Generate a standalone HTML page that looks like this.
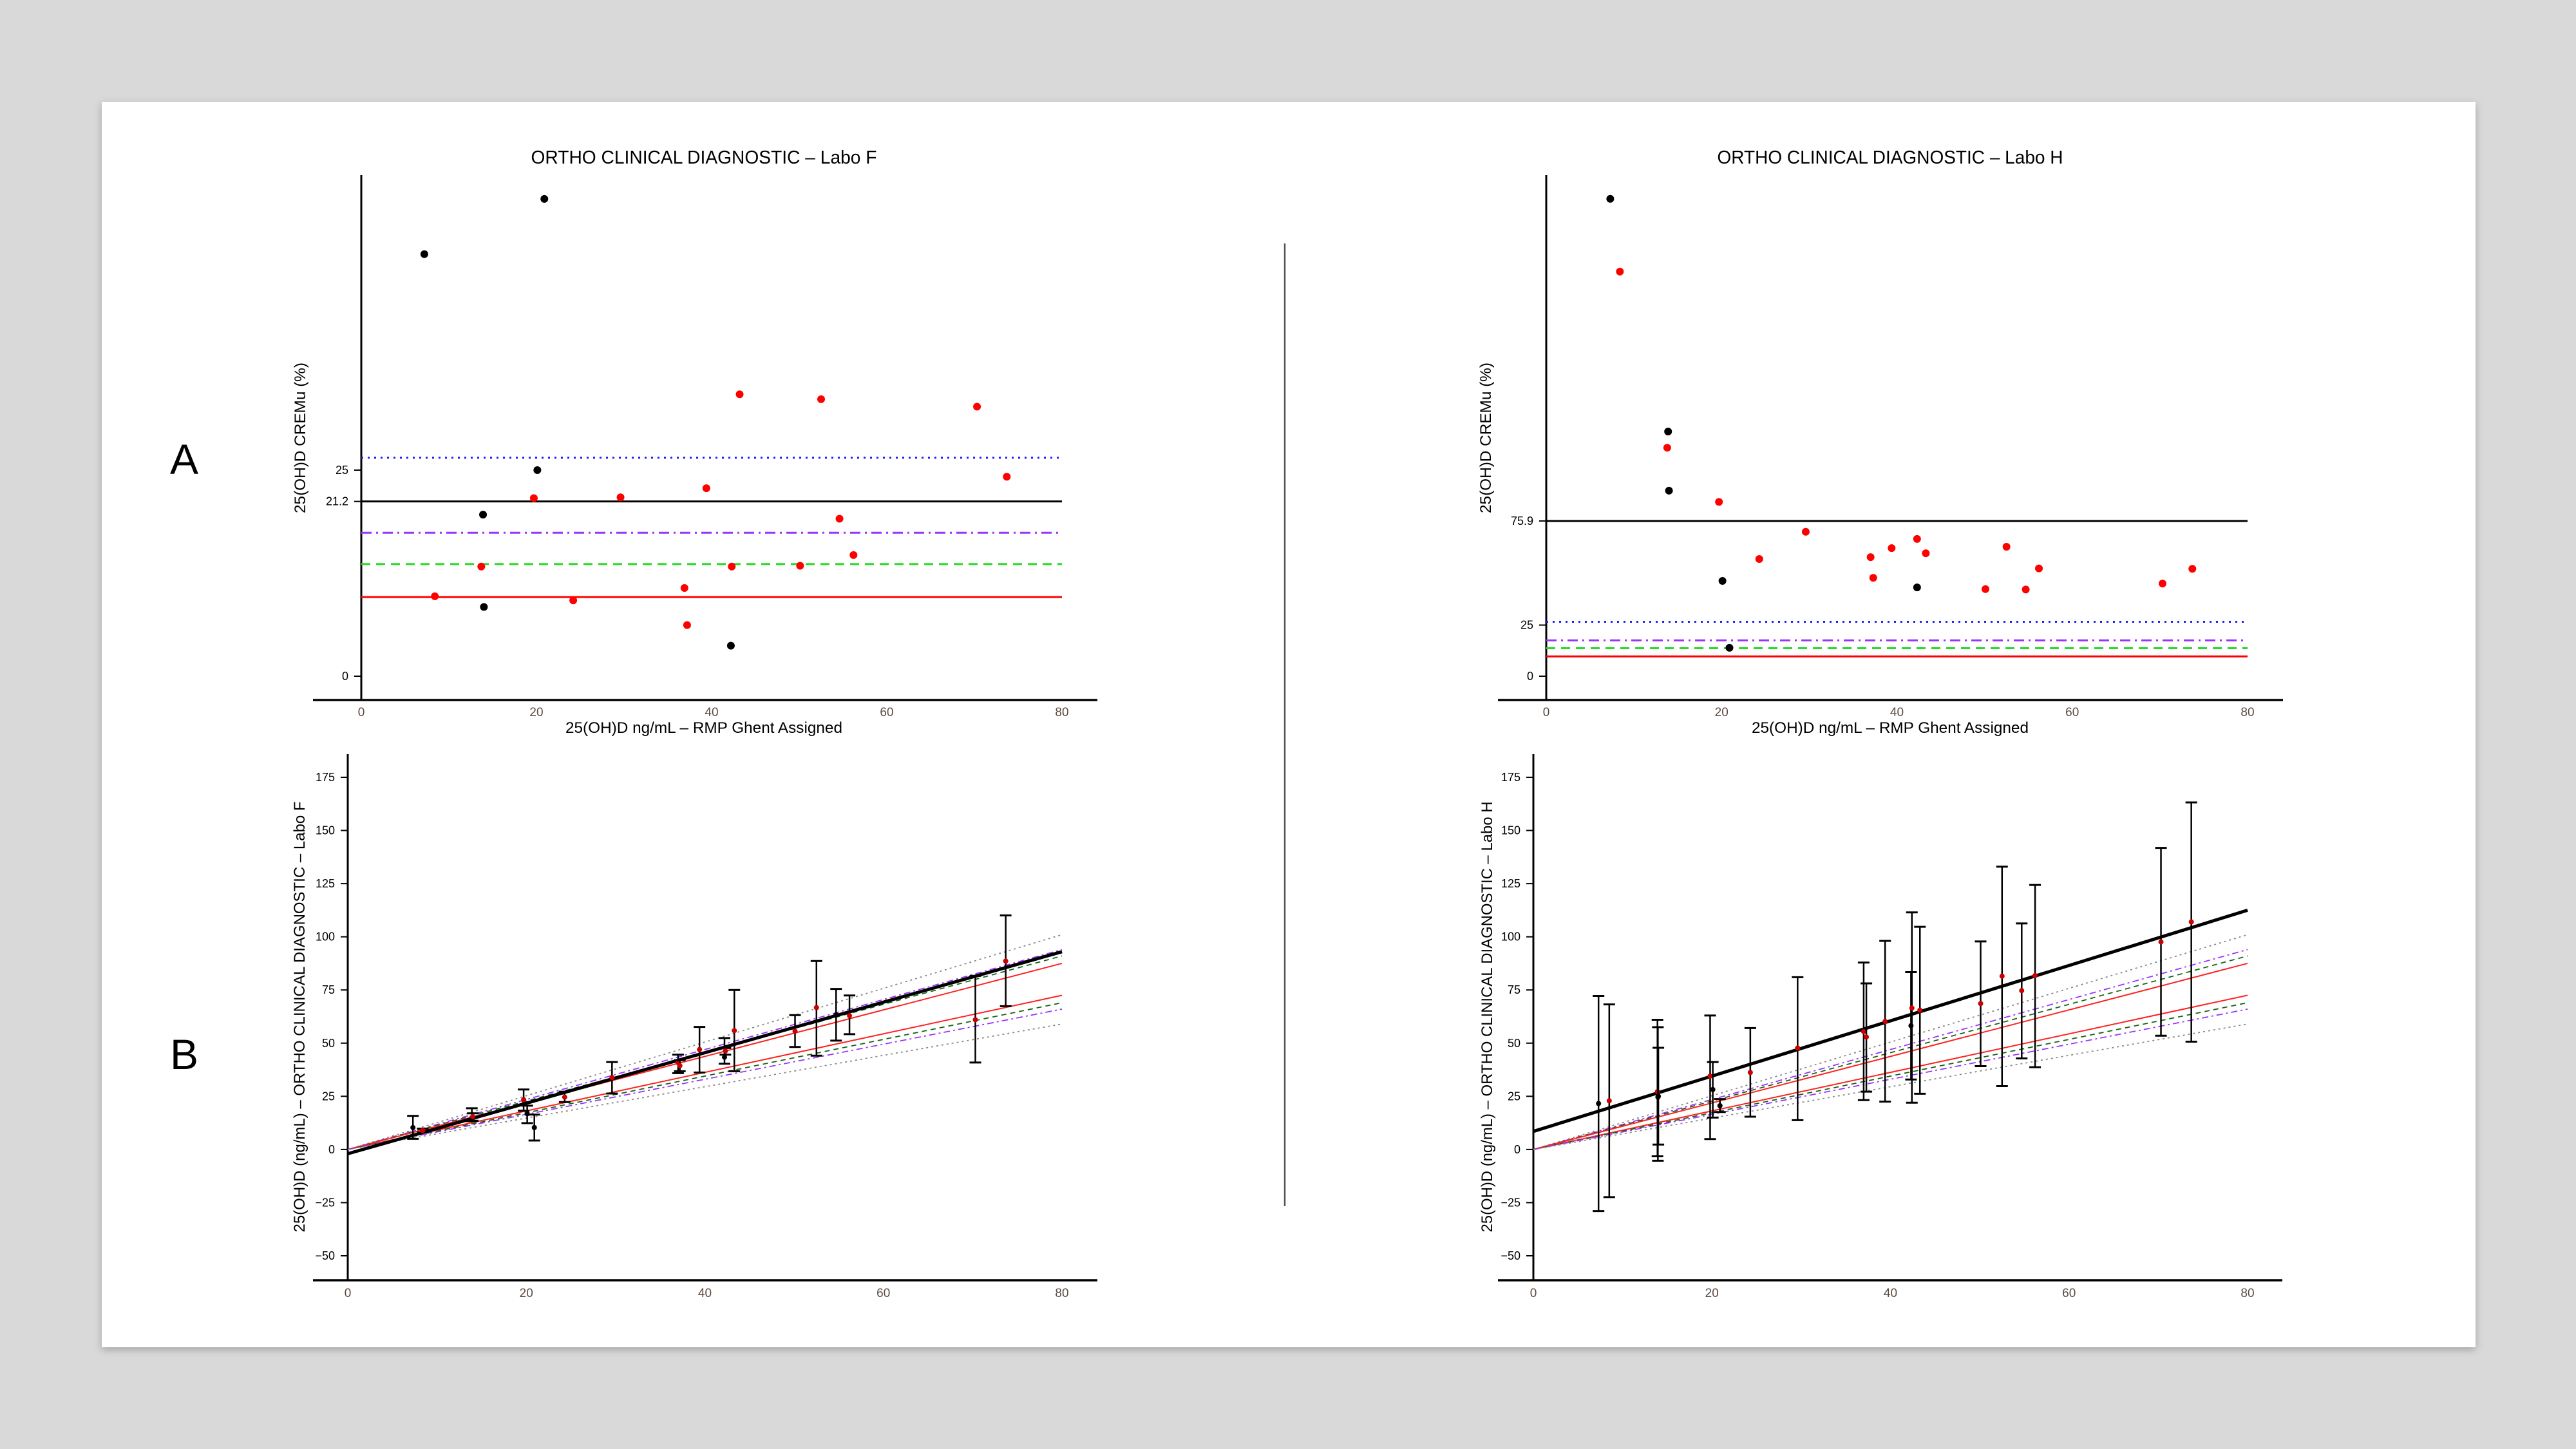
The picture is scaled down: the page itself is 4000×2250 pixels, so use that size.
<!DOCTYPE html>
<html><head><meta charset="utf-8">
<style>
html,body{margin:0;padding:0;background:#d9d9d9;}
svg{display:block;}
text{font-family:"Liberation Sans",sans-serif;}
</style></head>
<body>
<svg id="chart" width="4000" height="2250" viewBox="0 0 4000 2250" xmlns="http://www.w3.org/2000/svg">
<defs><filter id="sh" x="-5%" y="-5%" width="110%" height="110%"><feDropShadow dx="0" dy="4" stdDeviation="6" flood-color="#000" flood-opacity="0.25"/></filter></defs>
<rect x="0" y="0" width="4000" height="2250" fill="#d9d9d9"/>
<rect x="158" y="158" width="3686" height="1934" fill="#fff" filter="url(#sh)"/>
<text x="286" y="736" font-size="66" text-anchor="middle" fill="#000">A</text>
<text x="286" y="1660" font-size="66" text-anchor="middle" fill="#000">B</text>
<line x1="1995" y1="378" x2="1995" y2="1873" stroke="#555" stroke-width="2.5"/>
<g id="root"></g>
</svg>
<script>
// ---------- Panel A data (CREMu %) ----------
const aLeftBlackX = [7.2, 20.9, 20.1, 13.9, 14.0, 42.2];
const aLeftBlackY = [51.2, 57.9, 25.0, 19.6, 8.4, 3.7];
const aLeftRedX = [43.2, 52.5, 70.3, 73.7, 19.7, 29.6, 39.4, 54.6, 56.2, 13.7, 42.3, 50.1, 36.9, 8.4, 24.2, 37.2];
const aLeftRedY = [34.2, 33.6, 32.7, 24.2, 21.6, 21.7, 22.8, 19.1, 14.7, 13.3, 13.3, 13.4, 10.7, 9.7, 9.2, 6.2];
const aLeftRefs = [26.5, 21.2, 17.4, 13.6, 9.6]; // blue dotted, black, purple, green, red
const aLeftTicks = [0, 21.2, 25];

const aRightBlackX = [7.3, 13.9, 14.0, 20.1, 42.3, 20.9];
const aRightBlackY = [233.4, 119.6, 90.7, 46.6, 43.4, 13.9];
const aRightRedX = [8.4, 13.8, 19.7, 29.6, 24.3, 37.0, 37.3, 39.4, 42.3, 43.3, 52.5, 50.1, 54.7, 56.2, 70.3, 73.7];
const aRightRedY = [197.8, 111.7, 85.2, 70.6, 57.3, 58.2, 48.1, 62.6, 67.1, 60.1, 63.3, 42.6, 42.4, 52.7, 45.3, 52.5];
const aRightRefs = [26.6, 75.9, 17.5, 13.7, 9.7];
const aRightTicks = [0, 25, 75.9];

const xTicks = [0, 20, 40, 60, 80];
const bYTicks = [-50, -25, 0, 25, 50, 75, 100, 125, 150, 175];

// ---------- Panel B data ----------
const bandSlopesAt80 = [101, 94, 91, 87.5, 72.5, 69, 66, 59]; // value at x=80 for each band line
const bLeftFit = [-2, 93];    // fitted line value at x=0, x=80
const bRightFit = [8.5, 112.5];

const bLeftX   = [7.3, 8.4, 13.9, 14.0, 19.7, 20.1, 20.9, 24.3, 29.6, 37.0, 37.2, 39.4, 42.2, 42.3, 43.3, 50.1, 52.5, 54.7, 56.2, 70.3, 73.7];
const bLeftY   = [10.3, 8.9, 14.2, 15.4, 23.4, 16.8, 10.3, 24.6, 33.8, 40.8, 39.4, 47.0, 43.4, 46.3, 55.9, 55.6, 66.7, 63.3, 62.9, 61.0, 88.6];
const bLeftLo  = [5.0, 8.0, 13.3, 13.5, 18.2, 12.4, 4.2, 22.3, 26.3, 35.9, 36.8, 36.2, 40.3, 44.6, 36.8, 48.2, 44.1, 51.2, 54.2, 40.9, 67.4];
const bLeftHi  = [15.8, 9.8, 19.4, 17.0, 28.2, 20.6, 16.4, 27.2, 41.1, 44.6, 42.0, 57.6, 52.4, 47.7, 75.0, 63.2, 88.6, 75.5, 72.4, 81.6, 110.1];
const bLeftCol = ["k","r","k","r","r","k","k","r","r","r","r","r","k","r","r","r","r","k","r","r","r"];

const bRightX   = [7.3, 8.5, 13.9, 13.95, 14.0, 19.8, 20.1, 20.9, 24.3, 29.6, 37.0, 37.3, 39.4, 42.3, 42.4, 43.3, 50.1, 52.5, 54.7, 56.2, 70.3, 73.7];
const bRightY   = [21.6, 22.9, 27.2, 24.6, 25.0, 34.5, 28.2, 20.6, 36.2, 47.7, 55.4, 52.9, 60.2, 58.2, 66.5, 65.5, 68.6, 81.5, 74.7, 81.8, 97.6, 107.0];
const bRightLo  = [-29.0, -22.4, -3.2, -5.3, 2.3, 4.9, 15.0, 17.6, 15.4, 13.8, 23.2, 27.2, 22.5, 32.9, 22.0, 26.2, 39.2, 29.8, 42.8, 38.7, 53.5, 50.7];
const bRightHi  = [72.2, 68.2, 61.0, 57.5, 47.8, 63.0, 41.1, 23.7, 57.1, 81.0, 87.9, 78.1, 98.1, 83.4, 111.5, 104.7, 97.8, 133.0, 106.3, 124.4, 141.8, 163.2];
const bRightCol = ["k","r","r","k","k","r","k","k","r","r","r","r","r","k","r","r","r","r","r","r","r","r"];

const NS = "http://www.w3.org/2000/svg";
const root = document.getElementById("root");
function mk(tag, attrs, parent) {
  const e = document.createElementNS(NS, tag);
  for (const k in attrs) e.setAttribute(k, attrs[k]);
  (parent || root).appendChild(e);
  return e;
}
function lin(d0, d1, p0, p1) { return v => p0 + (v - d0) * (p1 - p0) / (d1 - d0); }

const refStyles = [
  {stroke:"#1a1aff", dash:"3,7", w:3},
  {stroke:"#000", dash:"", w:3},
  {stroke:"#9933ff", dash:"16,7,3,7", w:3},
  {stroke:"#22dd22", dash:"14,9", w:3},
  {stroke:"#ff0000", dash:"", w:3}
];
const refNames = ["limit-dotted-blue","mean-line","limit-dashdot-purple","limit-dashed-green","limit-solid-red"];

function panelA(cfg) {
  const g = mk("g", {});
  
  
  const x = lin(0, 80, cfg.x0, cfg.x80);
  const y = lin(0, cfg.refV, 1050, cfg.refY);
  const t = mk("text", {x:cfg.tx, y:254, "font-size":29, "text-anchor":"middle", textLength:537, lengthAdjust:"spacingAndGlyphs", fill:"#000"}, g);
  t.textContent = cfg.title;
  
  
  const ya = mk("line", {x1:cfg.x0, y1:272, x2:cfg.x0, y2:1087, stroke:"#000", "stroke-width":3}, g);
  
  
  const xa = mk("line", {x1:cfg.x0-75, y1:1087, x2:cfg.x80+55, y2:1087, stroke:"#000", "stroke-width":3.5}, g);
  
  
  cfg.refs.forEach((v, i) => {
    const s = refStyles[i];
    const l = mk("line", {x1:x(0), x2:x(80), y1:y(v), y2:y(v), stroke:s.stroke, "stroke-width":s.w, "stroke-dasharray":s.dash}, g);
    
    
  });
  cfg.ticks.forEach(v => {
    const tk = mk("line", {x1:cfg.x0-11, x2:cfg.x0, y1:y(v), y2:y(v), stroke:"#000", "stroke-width":2}, g);
    
    
    const tl = mk("text", {x:cfg.x0-20, y:y(v)+6, "font-size":18, "text-anchor":"end", fill:"#000"}, g);
    tl.textContent = String(v);
    
    
  });
  xTicks.forEach(v => {
    const tl = mk("text", {x:x(v), y:1112, "font-size":19, "text-anchor":"middle", fill:"#5a4a40"}, g);
    tl.textContent = String(v);
    
    
  });
  const xl = mk("text", {x:cfg.tx, y:1138, "font-size":24, "text-anchor":"middle", textLength:430, lengthAdjust:"spacingAndGlyphs", fill:"#000"}, g);
  xl.textContent = "25(OH)D  ng/mL \u2013 RMP Ghent Assigned";
  
  
  const yl = mk("text", {x:0, y:0, "font-size":24, "text-anchor":"middle", textLength:234, lengthAdjust:"spacingAndGlyphs", fill:"#000", transform:`translate(${cfg.ylx},680) rotate(-90)`}, g);
  yl.textContent = "25(OH)D  CREMu (%)";
  
  
  cfg.redX.forEach((v, i) => {
    const c = mk("circle", {cx:x(v), cy:y(cfg.redY[i]), r:6, fill:"#ff0000"}, g);
    
    
  });
  cfg.blackX.forEach((v, i) => {
    const c = mk("circle", {cx:x(v), cy:y(cfg.blackY[i]), r:6, fill:"#000"}, g);
    
    
  });
}

panelA({name:"panel-a-labo-f", title:"ORTHO CLINICAL DIAGNOSTIC \u2013 Labo F", x0:561, x80:1649, tx:1093, refV:25, refY:730, refs:aLeftRefs, ticks:aLeftTicks, blackX:aLeftBlackX, blackY:aLeftBlackY, redX:aLeftRedX, redY:aLeftRedY, ylx:474});
panelA({name:"panel-a-labo-h", title:"ORTHO CLINICAL DIAGNOSTIC \u2013 Labo H", x0:2401, x80:3490, tx:2935, refV:25, refY:970.6, refs:aRightRefs, ticks:aRightTicks, blackX:aRightBlackX, blackY:aRightBlackY, redX:aRightRedX, redY:aRightRedY, ylx:2315});

const bandStyles = [
  {stroke:"#888", dash:"3,5", w:1.8, n:"band-gray-dotted-upper"},
  {stroke:"#9933ff", dash:"10,5,3,5", w:1.8, n:"band-purple-upper"},
  {stroke:"#116611", dash:"8,6", w:1.8, n:"band-green-upper"},
  {stroke:"#ff2222", dash:"", w:2, n:"band-red-upper"},
  {stroke:"#ff2222", dash:"", w:2, n:"band-red-lower"},
  {stroke:"#116611", dash:"8,6", w:1.8, n:"band-green-lower"},
  {stroke:"#9933ff", dash:"10,5,3,5", w:1.8, n:"band-purple-lower"},
  {stroke:"#888", dash:"3,5", w:1.8, n:"band-gray-dotted-lower"}
];

function panelB(cfg) {
  const g = mk("g", {});
  
  
  const x = lin(0, 80, cfg.x0, cfg.x80);
  const y = lin(-50, 175, 1950, 1207);
  const ya = mk("line", {x1:cfg.x0, y1:1171, x2:cfg.x0, y2:1988, stroke:"#000", "stroke-width":3}, g);
  
  
  const xa = mk("line", {x1:cfg.xaL, y1:1988, x2:cfg.xaR, y2:1988, stroke:"#000", "stroke-width":3.5}, g);
  
  
  bYTicks.forEach(v => {
    const tk = mk("line", {x1:cfg.x0-11, x2:cfg.x0, y1:y(v), y2:y(v), stroke:"#000", "stroke-width":2}, g);
    
    
    const tl = mk("text", {x:cfg.x0-20, y:y(v)+6, "font-size":18, "text-anchor":"end", fill:"#000"}, g);
    tl.textContent = v < 0 ? "\u2212" + Math.abs(v) : String(v);
    
    
  });
  xTicks.forEach(v => {
    const tl = mk("text", {x:x(v), y:2014, "font-size":19, "text-anchor":"middle", fill:"#5a4a40"}, g);
    tl.textContent = String(v);
    
    
  });
  const yl = mk("text", {x:0, y:0, "font-size":24, "text-anchor":"middle", textLength:669, lengthAdjust:"spacingAndGlyphs", fill:"#000", transform:`translate(${cfg.ylx},1579) rotate(-90)`}, g);
  yl.textContent = cfg.ylabel;
  
  
  bandSlopesAt80.forEach((v, i) => {
    const s = bandStyles[i];
    const l = mk("line", {x1:x(0), y1:y(0), x2:x(80), y2:y(v), stroke:s.stroke, "stroke-width":s.w, "stroke-dasharray":s.dash}, g);
    
    
  });
  const f = mk("line", {x1:x(0), y1:y(cfg.fit[0]), x2:x(80), y2:y(cfg.fit[1]), stroke:"#000", "stroke-width":5}, g);
  
  
  cfg.X.forEach((v, i) => {
    const px = x(v);
    const eb = mk("g", {}, g);
    
    
    mk("line", {x1:px, x2:px, y1:y(cfg.lo[i]), y2:y(cfg.hi[i]), stroke:"#000", "stroke-width":2.5}, eb);
    mk("line", {x1:px-9, x2:px+9, y1:y(cfg.lo[i]), y2:y(cfg.lo[i]), stroke:"#000", "stroke-width":3}, eb);
    mk("line", {x1:px-9, x2:px+9, y1:y(cfg.hi[i]), y2:y(cfg.hi[i]), stroke:"#000", "stroke-width":3}, eb);
    const c = mk("circle", {cx:px, cy:y(cfg.Y[i]), r:4, fill: cfg.col[i] === "r" ? "#cc0000" : "#000"}, g);
    
    
  });
}

panelB({name:"panel-b-labo-f", x0:540, x80:1649, xaL:486, xaR:1704, fit:bLeftFit, X:bLeftX, Y:bLeftY, lo:bLeftLo, hi:bLeftHi, col:bLeftCol, ylx:473, ylabel:"25(OH)D (ng/mL) \u2013 ORTHO CLINICAL DIAGNOSTIC \u2013 Labo F"});
panelB({name:"panel-b-labo-h", x0:2381, x80:3490, xaL:2326, xaR:3544, fit:bRightFit, X:bRightX, Y:bRightY, lo:bRightLo, hi:bRightHi, col:bRightCol, ylx:2317, ylabel:"25(OH)D (ng/mL) \u2013 ORTHO CLINICAL DIAGNOSTIC \u2013 Labo H"});
</script>
</body></html>
